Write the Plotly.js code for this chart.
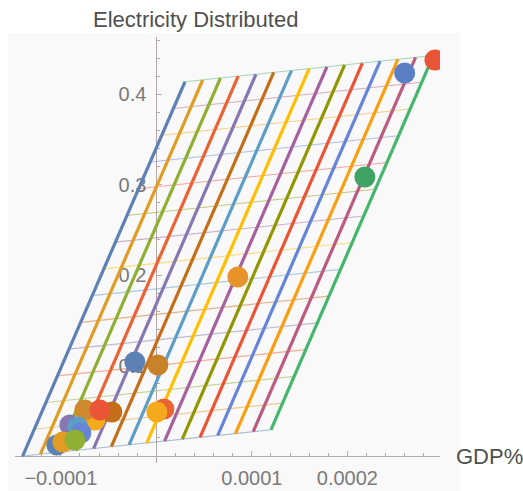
<!DOCTYPE html>
<html>
<head>
<meta charset="utf-8">
<script src="https://cdn.plot.ly/plotly-3.0.1.min.js"></script>
<style>
  html, body { margin: 0; padding: 0; background: #ffffff; }
  #chart { width: 523px; height: 491px; }
</style>
</head>
<body>
<div id="chart"></div>
<script>
// Indexed colour cycle used for every mesh line and point
const palette = ['#5E81B5', '#E19C24', '#8FB032', '#EB6235', '#8778B3', '#C56E1A', '#5D9EC7',
                 '#FFBF00', '#A5609D', '#929600', '#E95536', '#6685D9', '#F89F13', '#BC5B80', '#47B66D'];

// Sheared mesh: corner, edge along the bottom, edge along the slant, lines per direction
const meshCorner = [-0.00014, 0.0];
const meshEdgeU = [0.00026, 0.029];
const meshEdgeV = [0.00017, 0.414];
const meshLines = 15;

// Observations (drawn back to front)
const gdpPct = [0.0002916, 0.000260, 0.0002183, 0.0000853, -0.0000225, 0.0000016,
                0.0000079, 0.0000005, -0.0000644, -0.0000466, -0.0000749, -0.0000592,
                -0.0000906, -0.0000822, -0.0000790, -0.0001042, -0.0000979, -0.0000853];
const electricity = [0.438, 0.4237, 0.3086, 0.198, 0.104, 0.1007,
                     0.052, 0.0487, 0.0398, 0.0487, 0.0509, 0.0509,
                     0.0343, 0.0321, 0.0255, 0.0122, 0.0155, 0.0177];
const pointColors = ['#E95536', '#5A7FC4', '#3FA463', '#E8922A', '#5E81B5', '#C8822A',
                     '#EB6235', '#F5AA1C', '#F5AA1C', '#C56E1A', '#D08A2E', '#E95536',
                     '#8778B3', '#5D9EC7', '#6685D9', '#5E81B5', '#E19C24', '#8FB032'];

// Axis ticks
const xTickVals = [-0.0001, 0, 0.0001, 0.0002];
const xTickText = ['\u22120.0001', '', '0.0001', '0.0002'];
const yTickVals = [0.1, 0.2, 0.3, 0.4];
const yTickText = ['0.1', '0.2', '0.3', '0.4'];

const xRange = [-0.000148, 0.000297];
const yRange = [-0.0077, 0.4635];

const traces = [];

// thin cross lines (parallel to the bottom edge)
for (let k = 0; k < meshLines; k++) {
  const t = k / (meshLines - 1);
  const x0 = meshCorner[0] + t * meshEdgeV[0];
  const y0 = meshCorner[1] + t * meshEdgeV[1];
  traces.push({
    type: 'scatter', mode: 'lines', hoverinfo: 'skip', showlegend: false,
    x: [x0, x0 + meshEdgeU[0]], y: [y0, y0 + meshEdgeU[1]],
    line: { color: palette[k % palette.length], width: 1.1 }, opacity: 0.5
  });
}

// thick slanted lines
for (let k = 0; k < meshLines; k++) {
  const t = k / (meshLines - 1);
  const x0 = meshCorner[0] + t * meshEdgeU[0];
  const y0 = meshCorner[1] + t * meshEdgeU[1];
  traces.push({
    type: 'scatter', mode: 'lines', hoverinfo: 'skip', showlegend: false,
    x: [x0, x0 + meshEdgeV[0]], y: [y0, y0 + meshEdgeV[1]],
    line: { color: palette[k % palette.length], width: 3.2 }
  });
}

// data points
traces.push({
  type: 'scatter', mode: 'markers', showlegend: false,
  x: gdpPct, y: electricity,
  marker: { size: 21, color: pointColors, line: { width: 0 } },
  cliponaxis: true
});

const axisColor = '#b3a9a9';
const fontFamily = '"Liberation Sans", Arial, Helvetica, sans-serif';
const tickFont = { family: fontFamily, size: 20, color: '#7a7a7a' };

const layout = {
  width: 523, height: 491,
  margin: { l: 15, r: 83, t: 37, b: 28 },
  paper_bgcolor: '#ffffff',
  plot_bgcolor: 'rgba(0,0,0,0)',
  showlegend: false,
  xaxis: {
    range: xRange, anchor: 'free',
    position: (0 - yRange[0]) / (yRange[1] - yRange[0]),
    showgrid: false, zeroline: false,
    showline: true, linecolor: axisColor, linewidth: 1,
    tickmode: 'array', tickvals: xTickVals, ticktext: xTickText,
    ticks: 'inside', ticklen: 5, tickcolor: axisColor,
    ticklabelstandoff: 4,
    minor: { tickmode: 'linear', tick0: 0, dtick: 0.00002, ticks: 'inside', ticklen: 3, tickcolor: axisColor },
    tickfont: tickFont, layer: 'below traces', fixedrange: true
  },
  yaxis: {
    range: yRange, anchor: 'free',
    position: (0 - xRange[0]) / (xRange[1] - xRange[0]),
    showgrid: false, zeroline: false,
    showline: true, linecolor: axisColor, linewidth: 1,
    tickmode: 'array', tickvals: yTickVals, ticktext: yTickText,
    ticks: 'inside', ticklen: 5, tickcolor: axisColor,
    ticklabelstandoff: 6,
    minor: { tickmode: 'linear', tick0: 0, dtick: 0.02, ticks: 'inside', ticklen: 3, tickcolor: axisColor },
    tickfont: tickFont, layer: 'below traces', fixedrange: true
  },
  shapes: [{
    type: 'rect', xref: 'paper', yref: 'paper', layer: 'below',
    x0: -7 / 425, x1: 445 / 425, y0: -28 / 426, y1: 430 / 426,
    fillcolor: '#f9f9f9', line: { width: 0 }
  }],
  annotations: [
    {
      text: 'Electricity Distributed', xref: 'paper', yref: 'paper',
      x: 180 / 425, y: 443 / 426, xanchor: 'center', yanchor: 'middle', showarrow: false,
      font: { family: fontFamily, size: 22, color: '#505050' }
    },
    {
      text: 'GDP%', xref: 'paper', yref: 'paper',
      x: 439 / 425, y: 7 / 426, xanchor: 'left', yanchor: 'middle', showarrow: false,
      font: { family: fontFamily, size: 22, color: '#505050' }
    }
  ]
};

Plotly.newPlot('chart', traces, layout, { staticPlot: true, displayModeBar: false });
</script>
</body>
</html>
